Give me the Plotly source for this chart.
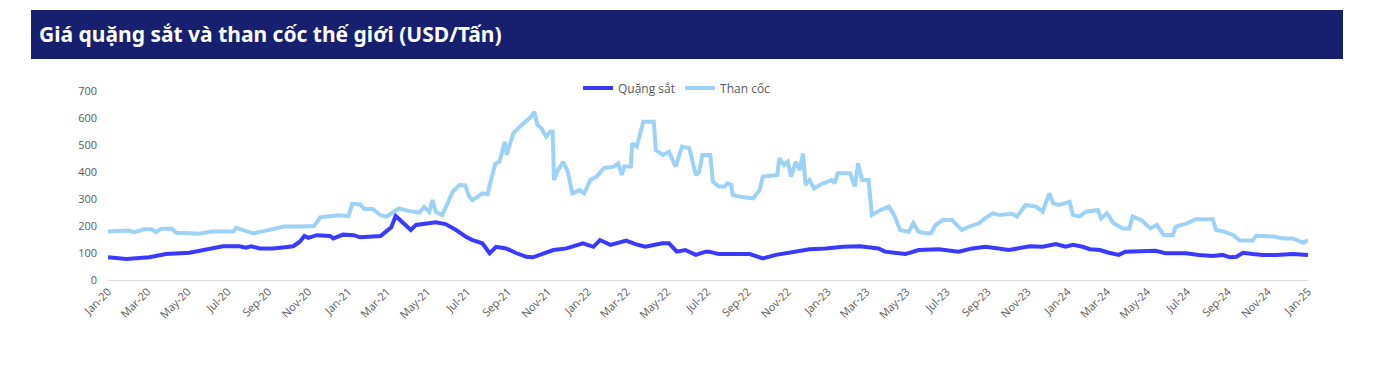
import plotly.graph_objects as go
import pandas as pd

# ---- Data ----
coal_dates = [
    "2020-01-01", "2020-02-01", "2020-02-10", "2020-02-25", "2020-03-07", "2020-03-14", "2020-03-22",
    "2020-04-07", "2020-04-14", "2020-05-01", "2020-05-19", "2020-06-07", "2020-07-10", "2020-07-14",
    "2020-07-25", "2020-08-09", "2020-08-25", "2020-09-09", "2020-09-25", "2020-10-19", "2020-11-10",
    "2020-11-19", "2020-12-01", "2020-12-16", "2021-01-01", "2021-01-07", "2021-01-19", "2021-01-25",
    "2021-02-07", "2021-02-19", "2021-02-28", "2021-03-07", "2021-03-19", "2021-04-04", "2021-04-19",
    "2021-04-26", "2021-05-04", "2021-05-09", "2021-05-14", "2021-05-24", "2021-06-01", "2021-06-09",
    "2021-06-19", "2021-06-28", "2021-07-04", "2021-07-09", "2021-07-24", "2021-08-01", "2021-08-06",
    "2021-08-13", "2021-08-19", "2021-08-27", "2021-08-30", "2021-09-09", "2021-09-19", "2021-09-28",
    "2021-10-06", "2021-10-11", "2021-10-16", "2021-10-22", "2021-10-29", "2021-11-04", "2021-11-08",
    "2021-11-10", "2021-11-16", "2021-11-24", "2021-12-01", "2021-12-08", "2021-12-19", "2021-12-26",
    "2022-01-04", "2022-01-14", "2022-01-25", "2022-02-09", "2022-02-16", "2022-02-21", "2022-02-25",
    "2022-03-07", "2022-03-09", "2022-03-16", "2022-03-19", "2022-03-26", "2022-04-11", "2022-04-14",
    "2022-04-25", "2022-05-04", "2022-05-14", "2022-05-24", "2022-06-04", "2022-06-14", "2022-06-19",
    "2022-06-24", "2022-07-06", "2022-07-10", "2022-07-19", "2022-07-28", "2022-08-01", "2022-08-07",
    "2022-08-09", "2022-08-19", "2022-09-09", "2022-09-19", "2022-09-24", "2022-10-07", "2022-10-16",
    "2022-10-19", "2022-10-26", "2022-11-01", "2022-11-06", "2022-11-13", "2022-11-19", "2022-11-24",
    "2022-11-28", "2022-12-04", "2022-12-11", "2022-12-25", "2023-01-07", "2023-01-11", "2023-01-16",
    "2023-02-04", "2023-02-11", "2023-02-16", "2023-02-22", "2023-03-04", "2023-03-09", "2023-03-22",
    "2023-04-04", "2023-04-13", "2023-04-21", "2023-05-04", "2023-05-11", "2023-05-19", "2023-05-29",
    "2023-06-07", "2023-06-14", "2023-06-25", "2023-07-09", "2023-07-24", "2023-08-04", "2023-08-19",
    "2023-08-28", "2023-09-09", "2023-09-19", "2023-10-09", "2023-10-16", "2023-10-29", "2023-11-14",
    "2023-11-24", "2023-11-29", "2023-12-04", "2023-12-10", "2023-12-19", "2024-01-04", "2024-01-09",
    "2024-01-19", "2024-01-29", "2024-02-16", "2024-02-21", "2024-03-01", "2024-03-11", "2024-03-25",
    "2024-04-04", "2024-04-09", "2024-04-22", "2024-05-06", "2024-05-16", "2024-05-26", "2024-06-09",
    "2024-06-14", "2024-07-01", "2024-07-14", "2024-08-09", "2024-08-14", "2024-08-25", "2024-09-09",
    "2024-09-19", "2024-10-09", "2024-10-14", "2024-11-09", "2024-11-25", "2024-12-09", "2024-12-16",
    "2024-12-25", "2025-01-01",
]
coal_values = [
    180, 183, 177, 188, 188, 177, 190,
    190, 175, 173, 171, 180, 180, 193,
    185, 173, 181, 191, 198, 198, 200,
    232, 237, 240, 237, 282, 280, 263,
    263, 240, 235, 245, 265, 255, 250,
    270, 252, 296, 253, 241, 284, 327,
    352, 350, 309, 296, 321, 318, 370,
    432, 438, 512, 463, 543, 568, 586,
    605, 623, 574, 562, 531, 549, 549,
    370, 407, 438, 401, 321, 333, 321,
    370, 383, 414, 420, 432, 389, 420,
    420, 506, 494, 519, 586, 586, 481,
    463, 475, 420, 494, 488, 389, 401,
    463, 463, 364, 346, 346, 358, 352,
    315, 309, 302, 333, 383, 386, 389,
    451, 426, 438, 383, 438, 407, 469,
    352, 370, 340, 358, 370, 358, 395,
    395, 346, 432, 370, 370, 241, 259,
    272, 235, 185, 179, 210, 179, 173,
    173, 204, 222, 222, 185, 198, 210,
    228, 247, 241, 245, 235, 278, 272,
    253, 284, 321, 284, 278, 290, 241,
    235, 253, 259, 228, 247, 210, 191,
    191, 235, 222, 191, 204, 167, 167,
    198, 210, 225, 225, 185, 180, 167,
    146, 146, 164, 161, 154, 154, 148,
    138, 148,
]

iron_dates = [
    "2020-01-01", "2020-01-29", "2020-03-04", "2020-03-29", "2020-05-04", "2020-05-19", "2020-06-09",
    "2020-06-24", "2020-07-19", "2020-07-29", "2020-08-06", "2020-08-19", "2020-09-09", "2020-10-09",
    "2020-10-19", "2020-10-26", "2020-11-01", "2020-11-14", "2020-12-04", "2020-12-09", "2020-12-24",
    "2021-01-09", "2021-01-19", "2021-02-19", "2021-02-28", "2021-03-07", "2021-03-14", "2021-03-21",
    "2021-03-29", "2021-04-06", "2021-04-14", "2021-04-29", "2021-05-14", "2021-05-29", "2021-06-14",
    "2021-06-29", "2021-07-09", "2021-07-24", "2021-08-04", "2021-08-14", "2021-08-29", "2021-09-14",
    "2021-09-29", "2021-10-09", "2021-10-24", "2021-11-09", "2021-11-29", "2021-12-24", "2022-01-09",
    "2022-01-19", "2022-02-04", "2022-02-28", "2022-03-14", "2022-03-29", "2022-04-24", "2022-05-04",
    "2022-05-16", "2022-05-29", "2022-06-14", "2022-06-29", "2022-07-04", "2022-07-19", "2022-09-04",
    "2022-09-24", "2022-10-14", "2022-11-09", "2022-12-04", "2022-12-29", "2023-01-24", "2023-02-19",
    "2023-03-19", "2023-03-29", "2023-04-29", "2023-05-19", "2023-06-19", "2023-07-19", "2023-08-09",
    "2023-08-29", "2023-09-19", "2023-10-04", "2023-11-04", "2023-11-24", "2023-12-14", "2023-12-29",
    "2024-01-09", "2024-01-24", "2024-02-04", "2024-02-19", "2024-03-04", "2024-03-19", "2024-03-29",
    "2024-04-19", "2024-05-14", "2024-05-29", "2024-06-29", "2024-07-19", "2024-08-09", "2024-08-24",
    "2024-09-04", "2024-09-14", "2024-09-24", "2024-10-09", "2024-10-24", "2024-11-14", "2024-12-09",
    "2025-01-01",
]
iron_values = [
    84, 78, 84, 96, 101, 108, 117,
    125, 125, 120, 125, 117, 117, 125,
    142, 163, 156, 166, 163, 154, 168,
    166, 158, 163, 181, 194, 237, 222,
    200, 185, 204, 210, 214, 207, 185,
    160, 148, 136, 99, 123, 117, 99,
    86, 84, 96, 111, 117, 136, 123,
    148, 130, 146, 133, 123, 136, 136,
    105, 111, 93, 105, 105, 96, 96,
    80, 93, 105, 114, 117, 123, 125,
    117, 105, 96, 111, 114, 105, 117,
    123, 117, 111, 125, 123, 133, 123,
    130, 123, 114, 111, 101, 93, 105,
    108, 108, 99, 99, 93, 89, 93,
    84, 86, 101, 96, 93, 93, 96,
    93,
]

series_names = ["Quặng sắt", "Than cốc"]
series_colors = ["#3a3aff", "#9dd1f5"]
title_text = "Giá quặng sắt và than cốc thế giới (USD/Tấn)"
y_ticks = [0, 100, 200, 300, 400, 500, 600, 700]
x_tick_dates = pd.date_range("2020-01-01", "2025-01-01", freq="2MS")

# ---- Figure ----
fig = go.Figure()
fig.add_trace(go.Scatter(x=iron_dates, y=iron_values, name=series_names[0], mode="lines",
                         line=dict(color=series_colors[0], width=4)))
fig.add_trace(go.Scatter(x=coal_dates, y=coal_values, name=series_names[1], mode="lines",
                         line=dict(color=series_colors[1], width=4)))

# page body has an 8px margin; the figure starts at (8, 8)
OFF = 8
W, H = 1376 - OFF, 382 - OFF
L, R, T, B = 108 - OFF, 68, 91 - OFF, 102
pw, ph = W - L - R, H - T - B

def px_x(p):
    return (p - OFF - L) / pw

def px_y(p):
    return (H - B - (p - OFF)) / ph

fig.add_shape(type="rect", xref="paper", yref="paper",
              x0=px_x(31), x1=px_x(1343), y0=px_y(59), y1=px_y(10),
              fillcolor="#16206e", line=dict(width=0), layer="below")
fig.add_annotation(xref="paper", yref="paper", x=px_x(37), y=px_y(34),
                   xanchor="left", yanchor="middle", showarrow=False,
                   text="<b>" + title_text + "</b>",
                   font=dict(family="Noto Sans", size=21, color="white"))

fig.update_layout(
    width=W, height=H,
    margin=dict(l=L, r=R, t=T, b=B),
    paper_bgcolor="white", plot_bgcolor="white",
    font=dict(family="Open Sans", size=11, color="#595959"),
    showlegend=True,
    legend=dict(orientation="h", x=px_x(677), y=px_y(88), xanchor="center", yanchor="middle",
                font=dict(family="Open Sans", size=12, color="#595959"),
                itemwidth=30, tracegroupgap=0, bgcolor="rgba(0,0,0,0)"),
    xaxis=dict(type="date", range=["2020-01-01", "2025-01-01"],
               tickvals=list(x_tick_dates), tickformat="%b-%y", tickangle=-45,
               showgrid=False, showline=True, linecolor="#d9d9d9", linewidth=1,
               ticks="", zeroline=False,
               tickfont=dict(family="Open Sans", size=11, color="#595959")),
    yaxis=dict(range=[0, 700], tickvals=y_ticks, showgrid=False, zeroline=False,
               showline=False, ticks="", ticklen=0, ticklabelstandoff=10,
               tickfont=dict(family="Open Sans", size=11, color="#595959")),
)

fig.write_html("out.html")
